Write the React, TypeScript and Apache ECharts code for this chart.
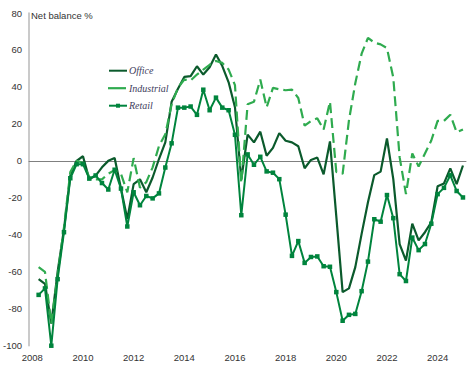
import React, { useEffect, useRef } from "react";
import * as echarts from "echarts";

// Tick labels on the x axis (years)
const yearTicks = [2008, 2010, 2012, 2014, 2016, 2018, 2020, 2022, 2024];
// First quarterly observation (2008 Q2) as decimal year, quarterly step
const firstQuarter = 2008.25;
const quarterStep = 0.25;

// Net balance %, quarterly, 2008 Q2 .. 2025 Q1
const office = [
  -64, -66.5, -88, -60, -37, -8, 0, 2.5, -10, -8,
  -3.5, 0, 1.5, -15, -31.5, -12.6, -10, -17, -9, 1,
  10, 32, 39, 45.4, 45.8, 51.2, 46.7, 50.6, 57.6, 51.3,
  42.5, 29, -10, 14.2, 10, 15.8, 2.8, 7, 15, 10.9,
  10, 7.9, -4, 0.5, 1.8, -7.3, 10.5, -30, -71, -69,
  -57.5, -39.5, -22.4, -7.7, -5.8, 12.1, -9.9, -45, -54, -34,
  -43, -38.6, -33.2, -13.7, -12.2, -4.1, -12.6, -2.5,
];

const industrial = [
  -57.5, -60, -88, -62, -36, -6, 0, -1, -9, -10,
  -10, -7, -5, -7, -17, 1.5, -14.5, -11.5, -3.5, 8,
  14.4, 30.6, 39.6, 44, 43.5, 46.7, 49.4, 52, 54, 53,
  49.4, 41, -12, 30.6, 32, 44, 29, 39.5, 38.7, 38.2,
  38.5, 34, 19, 21.6, 23, 17, 32, -6, -7, 22,
  42, 58, 66.5, 64, 63, 61, 45, 2, -18, 4,
  -3, 4, 11, 21.6, 21.6, 25, 15.5, 17,
];

const retail = [
  -72.5, -69, -100, -64, -38.6, -9.4, -1.8, -1.8, -9.6, -7.9,
  -12, -15.5, -4.8, -15, -35.5, -17, -24, -19, -20.3, -17.6,
  -3.6, 9.5, 28.8, 28.8, 29.4, 24.9, 38.5, 27.4, 34.2, 28.8,
  27.4, 14.1, -29.4, 3.5, -2.1, 2.2, -5.7, -6.4, -9.9, -29.1,
  -51.4, -43.4, -55.2, -52, -51.7, -57, -57.3, -71, -86.5, -83.3,
  -82.8, -70.5, -54.5, -31.6, -32.9, -18.5, -31, -61.3, -65, -41.5,
  -48.3, -45, -34, -18, -14.6, -7.8, -16.3, -19.8,
];

const seriesNames = ["Office", "Industrial", "Retail"];
const colors = { office: "#0b5a2c", industrial: "#2fab4f", retail: "#00843d" };

const toPairs = (vals: number[]) =>
  vals.map((v, i) => [firstQuarter + i * quarterStep, v]);

export default function App() {
  const ref = useRef<HTMLDivElement>(null);

  useEffect(() => {
    if (!ref.current) return;
    const chart = echarts.init(ref.current, undefined, { renderer: "svg" });
    const axisFont = { fontFamily: "Liberation Sans", fontSize: 9.5, color: "#333333" };
    const legendLeft = 108;
    const legendTop = 65.7;
    const legendRow = 17.5;
    chart.setOption({
      animation: false,
      grid: { left: 26, right: 3, top: 13, bottom: 26.3, containLabel: false },
      graphic: [
        {
          type: "text",
          left: 31,
          top: 10,
          style: {
            text: "Net balance %",
            fontFamily: "Liberation Sans",
            fontSize: 9.5,
            fill: "#333333",
          },
        },
        {
          // solid swatch for the dashed Industrial series, as in the original key
          type: "line",
          shape: {
            x1: legendLeft,
            y1: legendTop + 5 + legendRow,
            x2: legendLeft + 18,
            y2: legendTop + 5 + legendRow,
          },
          style: { stroke: colors.industrial, lineWidth: 2.2 },
          z: 100,
        },
      ],
      legend: {
        orient: "vertical",
        left: legendLeft,
        top: legendTop,
        padding: 0,
        itemWidth: 18,
        itemHeight: 5,
        itemGap: 7.5,
        textStyle: {
          fontFamily: "Liberation Serif",
          fontStyle: "italic",
          fontSize: 10,
          color: "#3f4160",
          padding: [0, 0, 0, -3],
        },
        data: [
          { name: seriesNames[0], itemStyle: { opacity: 0 } },
          {
            name: seriesNames[1],
            itemStyle: { opacity: 0 },
            lineStyle: { opacity: 0 },
          },
          { name: seriesNames[2] },
        ],
      },
      xAxis: [
        {
          type: "value",
          min: 2007.87,
          max: 2025.12,
          axisLine: { show: false, onZero: false },
          axisTick: { show: false },
          splitLine: { show: false },
          axisLabel: {
            ...axisFont,
            margin: 7,
            customValues: yearTicks,
            formatter: (v: number) => String(v),
          },
        },
        {
          type: "value",
          min: 2007.87,
          max: 2025.12,
          position: "bottom",
          axisLine: { show: true, onZero: true, lineStyle: { color: "#808080", width: 1 } },
          axisTick: { show: false },
          axisLabel: { show: false },
          splitLine: { show: false },
        },
      ],
      yAxis: {
        type: "value",
        min: -100,
        max: 80,
        interval: 20,
        axisLine: { show: true, lineStyle: { color: "#b8b8b8", width: 1.5 } },
        axisTick: { show: false },
        splitLine: { show: false },
        axisLabel: { ...axisFont, margin: 7 },
      },
      series: [
        {
          name: seriesNames[0],
          type: "line",
          data: toPairs(office),
          symbol: "none",
          lineStyle: { color: colors.office, width: 2.2 },
          itemStyle: { color: colors.office },
        },
        {
          name: seriesNames[1],
          type: "line",
          data: toPairs(industrial),
          symbol: "none",
          lineStyle: { color: colors.industrial, width: 2.2, type: [10, 5] },
          itemStyle: { color: colors.industrial },
        },
        {
          name: seriesNames[2],
          type: "line",
          data: toPairs(retail),
          symbol: "rect",
          symbolSize: 4.5,
          lineStyle: { color: colors.retail, width: 2 },
          itemStyle: { color: colors.retail },
        },
      ],
    });
    return () => chart.dispose();
  }, []);

  return (
    <div
      ref={ref}
      style={{ position: "absolute", left: 0, top: 0, width: 469, height: 372 }}
    />
  );
}
